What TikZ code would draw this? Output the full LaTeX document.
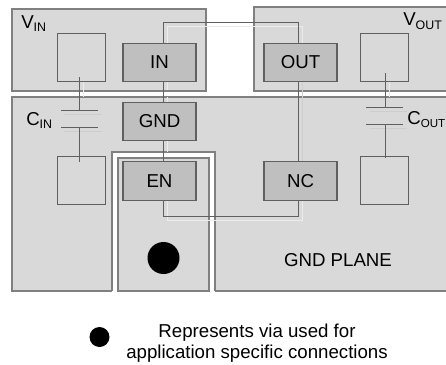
\documentclass[tikz,border=0pt]{standalone}
\usepackage{fontspec}
\setmainfont{Liberation Sans}
\definecolor{planecol}{HTML}{D9D9D9}
\definecolor{padfill}{HTML}{BFBFBF}
\definecolor{edgecol}{HTML}{808080}
\definecolor{wirecol}{HTML}{606060}
\definecolor{shadowcol}{HTML}{CDCDCD}
\tikzset{
  x=0.75pt,y=-0.75pt,
  planebox/.style={draw=edgecol,fill=planecol,line width=0.9pt},
  padbox/.style={draw=wirecol,fill=padfill,line width=0.8pt,font=\fontsize{14}{16}\selectfont,text=black,inner sep=0pt},
  sqbox/.style={draw=wirecol,fill=planecol,line width=0.7pt,inner sep=0pt},
  wireline/.style={draw=wirecol,line width=0.7pt},
  shadeline/.style={draw=white!85!gray,line width=0.7pt},
  plateshadow/.style={draw=shadowcol,line width=0.6pt},
  lbl/.style={font=\fontsize{14}{16}\selectfont,text=black,inner sep=0pt},
}
\newcommand{\subtxt}[1]{\raisebox{-0.35ex}{\fontsize{9.3}{10}\selectfont #1}}
\newcommand{\subtxtsmall}[1]{\raisebox{-0.35ex}{\fontsize{8.7}{10}\selectfont #1}}
\begin{document}
\begin{tikzpicture}
\useasboundingbox (0,0) rectangle (446,364);
\fill[white] (0,0) rectangle (446,364);
% planes
\draw[planebox] (12,9) rectangle (206,91);
\draw[planebox] (254,7) rectangle (447,91);
\draw[planebox] (12,97) rectangle (447,291);
\fill[white] (112,152) rectangle (215,292);
\draw[edgecol,line width=0.9pt] (112,291) -- (112,152) -- (215,152) -- (215,291);
\draw[planebox] (118,291) -- (118,158) -- (209,158) -- (209,291) -- cycle;
% shadow lines
\draw[shadeline] (167,90) -- (167,26) -- (302,26) -- (302,43);
\draw[shadeline] (167,97) -- (167,152);
\draw[shadeline] (167,200) -- (167,220) -- (302,220) -- (302,200);
\draw[draw=planecol!95!black,line width=0.7pt] (302,82) -- (302,162);
\draw[shadeline] (83,81) -- (83,97);
\draw[shadeline] (389,81) -- (389,97);
\draw[plateshadow] (64,114) -- (102,114) (64,131) -- (102,131);
\draw[plateshadow] (370,111) -- (407,111) (370,128) -- (407,128);
% squares
\node[sqbox,minimum width=36pt,minimum height=36pt] (sqa) at (81,57) {};
\node[sqbox,minimum width=36pt,minimum height=36pt] (sqb) at (81,180) {};
\node[sqbox,minimum width=36pt,minimum height=36pt] (sqc) at (384,57) {};
\node[sqbox,minimum width=36pt,minimum height=36pt] (sqd) at (384,180) {};
% pads
\node[padbox,minimum width=54.75pt,minimum height=29pt] (in) at (159.5,62.5) {IN};
\node[padbox,minimum width=54.75pt,minimum height=29pt] (gnd) at (159.5,121.5) {GND};
\node[padbox,minimum width=54.75pt,minimum height=29pt] (en) at (159.5,181) {EN};
\node[padbox,minimum width=54.75pt,minimum height=29pt] (out) at (300.5,62.5) {OUT};
\node[padbox,minimum width=54.75pt,minimum height=29pt] (nc) at (300.5,181) {NC};
% wires
\coordinate (ina) at (163,43);
\coordinate (inb) at (163,22);
\coordinate (outb) at (298,22);
\coordinate (outa) at (298,43);
\draw[wireline] (ina) -- (inb) -- (outb) -- (outa);
\draw[wireline] (163,82) -- (163,102);
\draw[wireline] (163,141) -- (163,162);
\draw[wireline] (298,82) -- (298,162);
\draw[wireline] (163,200) -- (163,216.5) -- (298,216.5) -- (298,200);
% capacitors
\coordinate (ca1) at (79,77);
\coordinate (ca2) at (79,110);
\coordinate (ca3) at (79,127);
\coordinate (ca4) at (79,162);
\draw[wireline] (ca1) -- (ca2) (ca3) -- (ca4);
\draw[wireline] (61,110) -- (98,110) (61,127) -- (98,127);
\coordinate (cb1) at (385,73);
\coordinate (cb2) at (385,107);
\coordinate (cb3) at (385,124);
\coordinate (cb4) at (385,158);
\draw[wireline] (cb1) -- (cb2) (cb3) -- (cb4);
\draw[wireline] (366,107) -- (403,107) (366,124) -- (403,124);
% labels
\node[lbl,anchor=base west] (vin) at (21,28) {V\subtxt{IN}};
\node[lbl,anchor=base west] (cin) at (26,125) {C\subtxt{IN}};
\node[lbl,anchor=base west] (vout) at (403,26) {V\subtxt{OUT}};
\node[lbl,anchor=base west] (cout) at (407,124) {C\subtxtsmall{OUT}};
\node[lbl] (planelabel) at (338,260) {GND PLANE};
% vias
\fill[black] (163.5,258) circle (16);
\node[circle,fill=black,inner sep=0pt,minimum size=15pt] (legdot) at (99.5,337) {};
\node[font=\fontsize{14}{16}\selectfont,text=black,align=center,inner sep=0pt] (legend) at (257,343) {Represents via used for\\application specific connections};
\end{tikzpicture}
\end{document}
